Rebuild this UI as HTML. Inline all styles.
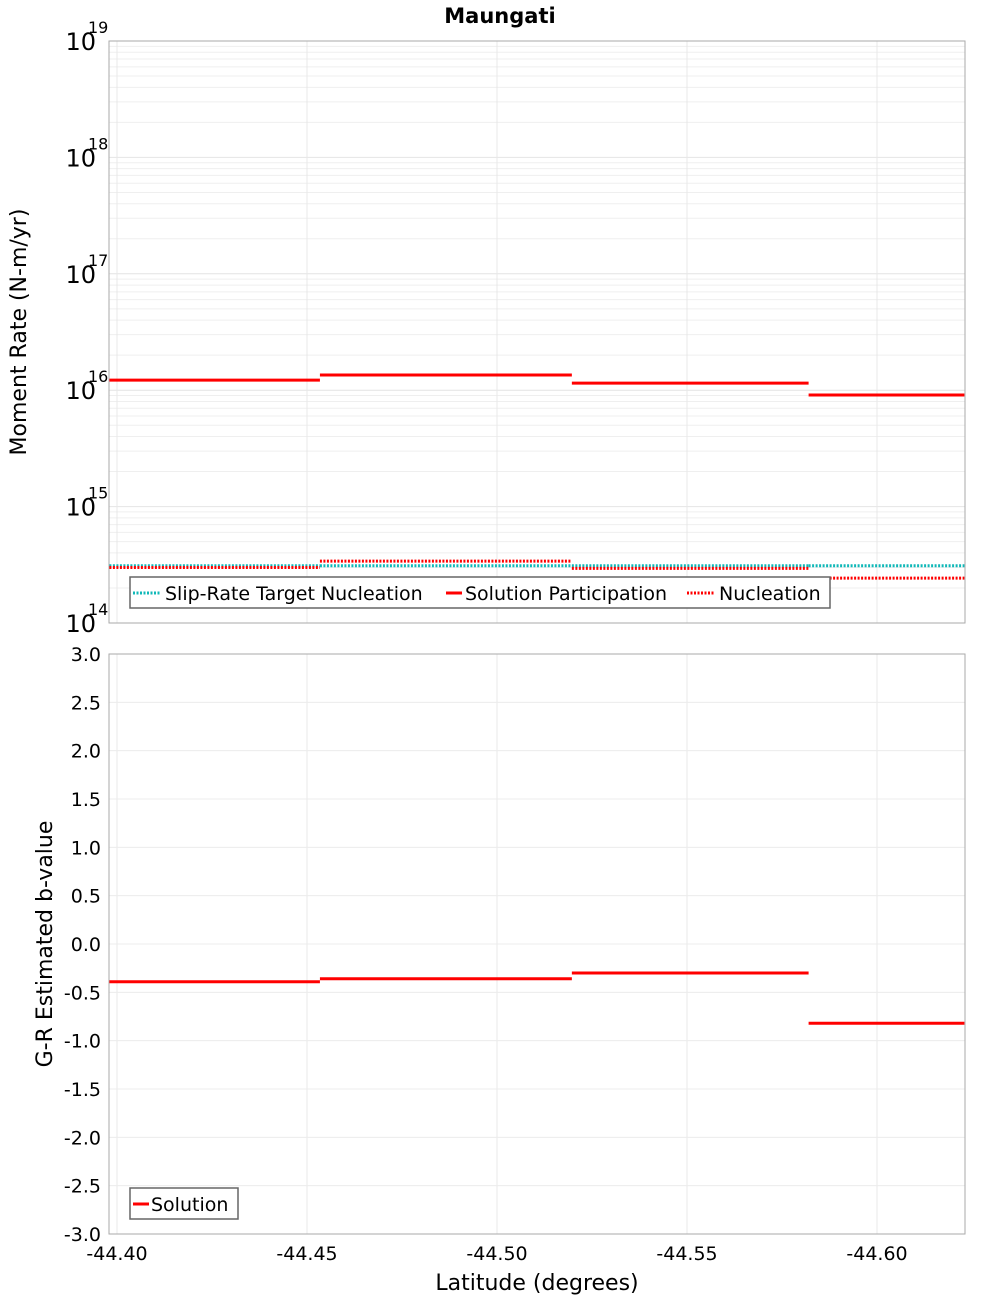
<!DOCTYPE html>
<html><head><meta charset="utf-8"><style>
body{margin:0;background:#fff}
svg text{font-family:"DejaVu Sans","Liberation Sans",sans-serif}
</style></head><body>
<svg id="c" width="1000" height="1300" xmlns="http://www.w3.org/2000/svg">
<text x="500" y="23" text-anchor="middle" font-size="21" font-weight="bold">Maungati</text>
<g id="topPanel"></g>
<g id="botPanel"></g>
<text x="26" y="332" transform="rotate(-90 26 332)" text-anchor="middle" font-size="22">Moment Rate (N-m/yr)</text>
<text x="52" y="944" transform="rotate(-90 52 944)" text-anchor="middle" font-size="22">G-R Estimated b-value</text>
<text x="537" y="1290" text-anchor="middle" font-size="22">Latitude (degrees)</text>
</svg>
<script>
const segEdges=[-44.398,-44.4534,-44.5197,-44.582,-44.623];
const participation=[1.22e16,1.35e16,1.15e16,9.1e15];
const nucleation=[3.0e14,3.4e14,2.95e14,2.43e14];
const targetNucleation=[3.1e14,3.1e14,3.1e14,3.1e14];
const bValues=[-0.39,-0.36,-0.30,-0.82];
const xTicks=[-44.40,-44.45,-44.50,-44.55,-44.60];
const bTicks=[3.0,2.5,2.0,1.5,1.0,0.5,0.0,-0.5,-1.0,-1.5,-2.0,-2.5,-3.0];
const logTicks=[14,15,16,17,18,19];

const NS='http://www.w3.org/2000/svg';
const L=109,R=965;
const xs=v=>117+(-44.40-v)*3800;
const T0=41,T1=623;
const ys=v=>T1-(Math.log10(v)-14)*(T1-T0)/5;
const B0=654,B1=1234;
const yb=v=>B0+(3-v)*(B1-B0)/6;
function mk(p,tag,a){const e=document.createElementNS(NS,tag);for(const k in a)e.setAttribute(k,a[k]);p.appendChild(e);return e;}
const topG=document.getElementById('topPanel'),botG=document.getElementById('botPanel');

for(let d=14;d<19;d++)for(let m=1;m<10;m++){const y=ys(m*Math.pow(10,d));
 const g=mk(topG,'line',{x1:L,x2:R,y1:y,y2:y,stroke:m==1?'#e4e4e4':'#efefef','stroke-width':1});
 
 }
for(const t of xTicks){for(const [p,a,b] of [[topG,T0,T1],[botG,B0,B1]]){const g=mk(p,'line',{x1:xs(t),x2:xs(t),y1:a,y2:b,stroke:'#e8e8e8'});
 
 }}
for(const t of bTicks){const g=mk(botG,'line',{x1:L,x2:R,y1:yb(t),y2:yb(t),stroke:'#ececec'});
 
 }
let f=mk(topG,'rect',{x:L,y:T0,width:R-L,height:T1-T0,fill:'none',stroke:'#aaa'});


f=mk(botG,'rect',{x:L,y:B0,width:R-L,height:B1-B0,fill:'none',stroke:'#aaa'});


for(const d of logTicks){const y=ys(Math.pow(10,d));
 const t=mk(topG,'text',{x:96,y:y+9,'text-anchor':'end','font-size':24});t.textContent='10';
 
 
 const s=mk(topG,'text',{x:88,y:y-8,'font-size':16});s.textContent=String(d);
 
 }
for(const v of bTicks){const t=mk(botG,'text',{x:101,y:yb(v)+7,'text-anchor':'end','font-size':19});t.textContent=v.toFixed(1);
 
 }
for(const v of xTicks){const t=mk(botG,'text',{x:xs(v),y:1260,'text-anchor':'middle','font-size':19});t.textContent=v.toFixed(2);
 
 }
function steps(p,vals,yf,color,dash,name){for(let i=0;i<vals.length;i++){
 const x1=Math.max(L,xs(segEdges[i])),x2=Math.min(R,xs(segEdges[i+1]));
 const a={x1:x1,x2:x2,y1:yf(vals[i]),y2:yf(vals[i]),stroke:color,'stroke-width':3};if(dash)a['stroke-dasharray']='2 1.5';
 const e=mk(p,'line',a);
 
 }}
steps(topG,targetNucleation,ys,'#10b8b8',true,'target-nucleation-segment');
steps(topG,participation,ys,'#ff0000',false,'participation-segment');
steps(topG,nucleation,ys,'#ff0000',true,'nucleation-segment');
steps(botG,bValues,yb,'#ff0000',false,'b-value-segment');
let lg=mk(topG,'g',{});


mk(lg,'rect',{x:130,y:577,width:700,height:31,fill:'#fff',stroke:'#666','stroke-width':1.5});
const ent=[[133,161,'#10b8b8',true,'Slip-Rate Target Nucleation',165],[446,462,'#ff0000',false,'Solution Participation',465],[687,715,'#ff0000',true,'Nucleation',719]];
for(const [a,b,c,d,txt,tx] of ent){const ln={x1:a,x2:b,y1:593,y2:593,stroke:c,'stroke-width':3};if(d)ln['stroke-dasharray']='2 1.5';mk(lg,'line',ln);
 const t=mk(lg,'text',{x:tx,y:600,'font-size':19});t.textContent=txt;
 
 }
lg=mk(botG,'g',{});


mk(lg,'rect',{x:130,y:1188,width:108,height:31,fill:'#fff',stroke:'#666','stroke-width':1.5});
mk(lg,'line',{x1:133,x2:149,y1:1204,y2:1204,stroke:'#ff0000','stroke-width':3});
let t=mk(lg,'text',{x:151,y:1211,'font-size':19});t.textContent='Solution';


</script>
</body></html>
